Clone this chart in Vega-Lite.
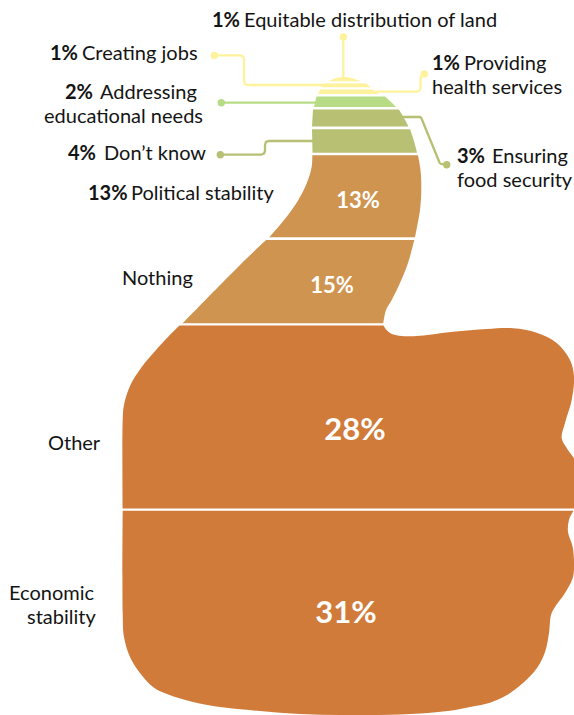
{
"$schema":"https://vega.github.io/schema/vega-lite/v6.json",
"width":574,"height":715,"padding":0,
"autosize":{"type":"fit","contains":"padding"},
"background":"white",
"view":{"stroke":null},
"datasets":{
"bands":[
{"topic":"Equitable distribution of land","seq":0,"x":328,"depth":81.2},{"topic":"Equitable distribution of land","seq":1,"x":328,"depth":81.2},{"topic":"Equitable distribution of land","seq":2,"x":335,"depth":78.4},{"topic":"Equitable distribution of land","seq":3,"x":344,"depth":77},{"topic":"Equitable distribution of land","seq":4,"x":353,"depth":78.4},{"topic":"Equitable distribution of land","seq":5,"x":361,"depth":81.2},{"topic":"Equitable distribution of land","seq":6,"x":361,"depth":81.2},
{"topic":"Creating jobs","seq":0,"x":324,"depth":83.5},{"topic":"Creating jobs","seq":1,"x":324,"depth":83.5},{"topic":"Creating jobs","seq":2,"x":366,"depth":83.5},{"topic":"Creating jobs","seq":3,"x":366,"depth":83.5},{"topic":"Creating jobs","seq":4,"x":371,"depth":87.3},{"topic":"Creating jobs","seq":5,"x":371,"depth":87.3},{"topic":"Creating jobs","seq":6,"x":321,"depth":87.3},{"topic":"Creating jobs","seq":7,"x":321,"depth":87.3},
{"topic":"Providing health services","seq":0,"x":320,"depth":89.6},{"topic":"Providing health services","seq":1,"x":320,"depth":89.6},{"topic":"Providing health services","seq":2,"x":373,"depth":89.6},{"topic":"Providing health services","seq":3,"x":373,"depth":89.6},{"topic":"Providing health services","seq":4,"x":379,"depth":94},{"topic":"Providing health services","seq":5,"x":379,"depth":94},{"topic":"Providing health services","seq":6,"x":318,"depth":94},{"topic":"Providing health services","seq":7,"x":318,"depth":94},
{"topic":"Addressing educational needs","seq":0,"x":316.5,"depth":96.5},{"topic":"Addressing educational needs","seq":1,"x":316.5,"depth":96.5},{"topic":"Addressing educational needs","seq":2,"x":385,"depth":96.5},{"topic":"Addressing educational needs","seq":3,"x":385,"depth":96.5},{"topic":"Addressing educational needs","seq":4,"x":391,"depth":102},{"topic":"Addressing educational needs","seq":5,"x":396,"depth":107},{"topic":"Addressing educational needs","seq":6,"x":396,"depth":107},{"topic":"Addressing educational needs","seq":7,"x":314,"depth":107},{"topic":"Addressing educational needs","seq":8,"x":314,"depth":107},
{"topic":"Ensuring food security","seq":0,"x":313,"depth":109.6},{"topic":"Ensuring food security","seq":1,"x":313,"depth":109.6},{"topic":"Ensuring food security","seq":2,"x":399,"depth":109.6},{"topic":"Ensuring food security","seq":3,"x":399,"depth":109.6},{"topic":"Ensuring food security","seq":4,"x":404,"depth":118},{"topic":"Ensuring food security","seq":5,"x":408.5,"depth":126.4},{"topic":"Ensuring food security","seq":6,"x":408.5,"depth":126.4},{"topic":"Ensuring food security","seq":7,"x":312,"depth":126.4},{"topic":"Ensuring food security","seq":8,"x":312,"depth":126.4},
{"topic":"Don't know","seq":0,"x":312,"depth":129.2},{"topic":"Don't know","seq":1,"x":312,"depth":129.2},{"topic":"Don't know","seq":2,"x":410,"depth":129.2},{"topic":"Don't know","seq":3,"x":410,"depth":129.2},{"topic":"Don't know","seq":4,"x":414,"depth":141},{"topic":"Don't know","seq":5,"x":417,"depth":152.8},{"topic":"Don't know","seq":6,"x":417,"depth":152.8},{"topic":"Don't know","seq":7,"x":312.5,"depth":152.8},{"topic":"Don't know","seq":8,"x":312.5,"depth":152.8},
{"topic":"Political stability","seq":0,"x":312.3,"depth":155.3},{"topic":"Political stability","seq":1,"x":312.3,"depth":155.3},{"topic":"Political stability","seq":2,"x":418,"depth":155.3},{"topic":"Political stability","seq":3,"x":418,"depth":155.3},{"topic":"Political stability","seq":4,"x":420.5,"depth":170},{"topic":"Political stability","seq":5,"x":421.3,"depth":190},{"topic":"Political stability","seq":6,"x":420,"depth":210},{"topic":"Political stability","seq":7,"x":415,"depth":237.3},{"topic":"Political stability","seq":8,"x":415,"depth":237.3},{"topic":"Political stability","seq":9,"x":269.3,"depth":237.3},{"topic":"Political stability","seq":10,"x":269.3,"depth":237.3},{"topic":"Political stability","seq":11,"x":286.7,"depth":216.7},{"topic":"Political stability","seq":12,"x":298.3,"depth":200},{"topic":"Political stability","seq":13,"x":306.7,"depth":183.3},{"topic":"Political stability","seq":14,"x":311.7,"depth":166.7},{"topic":"Political stability","seq":15,"x":312.3,"depth":155.3},{"topic":"Political stability","seq":16,"x":312.3,"depth":155.3},
{"topic":"Nothing","seq":0,"x":266,"depth":240},{"topic":"Nothing","seq":1,"x":266,"depth":240},{"topic":"Nothing","seq":2,"x":414.3,"depth":240},{"topic":"Nothing","seq":3,"x":414.3,"depth":240},{"topic":"Nothing","seq":4,"x":408,"depth":263},{"topic":"Nothing","seq":5,"x":400,"depth":283},{"topic":"Nothing","seq":6,"x":391.7,"depth":300},{"topic":"Nothing","seq":7,"x":386,"depth":310},{"topic":"Nothing","seq":8,"x":383.3,"depth":323.3},{"topic":"Nothing","seq":9,"x":383.3,"depth":323.3},{"topic":"Nothing","seq":10,"x":182.7,"depth":323.3},{"topic":"Nothing","seq":11,"x":182.7,"depth":323.3},{"topic":"Nothing","seq":12,"x":240,"depth":265},{"topic":"Nothing","seq":13,"x":266,"depth":240},{"topic":"Nothing","seq":14,"x":266,"depth":240},
{"topic":"Other","seq":0,"x":179.5,"depth":325.6},{"topic":"Other","seq":1,"x":179.5,"depth":325.6},{"topic":"Other","seq":2,"x":383.5,"depth":325.6},{"topic":"Other","seq":3,"x":383.5,"depth":325.6},{"topic":"Other","seq":4,"x":386.5,"depth":330},{"topic":"Other","seq":5,"x":392,"depth":334},{"topic":"Other","seq":6,"x":401.7,"depth":336},{"topic":"Other","seq":7,"x":420,"depth":335.7},{"topic":"Other","seq":8,"x":453,"depth":331.7},{"topic":"Other","seq":9,"x":486.7,"depth":329},{"topic":"Other","seq":10,"x":513,"depth":328.3},{"topic":"Other","seq":11,"x":536.7,"depth":332.7},{"topic":"Other","seq":12,"x":556.7,"depth":343},{"topic":"Other","seq":13,"x":570,"depth":360},{"topic":"Other","seq":14,"x":574,"depth":376.7},{"topic":"Other","seq":15,"x":571.7,"depth":400},{"topic":"Other","seq":16,"x":565,"depth":423},{"topic":"Other","seq":17,"x":561.7,"depth":438},{"topic":"Other","seq":18,"x":566.7,"depth":448},{"topic":"Other","seq":19,"x":574,"depth":458},{"topic":"Other","seq":20,"x":574,"depth":458},{"topic":"Other","seq":21,"x":574,"depth":508.4},{"topic":"Other","seq":22,"x":574,"depth":508.4},{"topic":"Other","seq":23,"x":122.7,"depth":508.4},{"topic":"Other","seq":24,"x":122.7,"depth":508.4},{"topic":"Other","seq":25,"x":122.7,"depth":420},{"topic":"Other","seq":26,"x":124,"depth":405},{"topic":"Other","seq":27,"x":130,"depth":386},{"topic":"Other","seq":28,"x":141,"depth":368},{"topic":"Other","seq":29,"x":156,"depth":350},{"topic":"Other","seq":30,"x":168,"depth":337},{"topic":"Other","seq":31,"x":179.5,"depth":325.6},{"topic":"Other","seq":32,"x":179.5,"depth":325.6},
{"topic":"Economic stability","seq":0,"x":122.7,"depth":510.8},{"topic":"Economic stability","seq":1,"x":122.7,"depth":510.8},{"topic":"Economic stability","seq":2,"x":573.5,"depth":510.8},{"topic":"Economic stability","seq":3,"x":573.5,"depth":510.8},{"topic":"Economic stability","seq":4,"x":569,"depth":520},{"topic":"Economic stability","seq":5,"x":568,"depth":532},{"topic":"Economic stability","seq":6,"x":572.7,"depth":547},{"topic":"Economic stability","seq":7,"x":574,"depth":567},{"topic":"Economic stability","seq":8,"x":572.7,"depth":578},{"topic":"Economic stability","seq":9,"x":565,"depth":593},{"topic":"Economic stability","seq":10,"x":555,"depth":607},{"topic":"Economic stability","seq":11,"x":551,"depth":615},{"topic":"Economic stability","seq":12,"x":549,"depth":633},{"topic":"Economic stability","seq":13,"x":545,"depth":652},{"topic":"Economic stability","seq":14,"x":537,"depth":668},{"topic":"Economic stability","seq":15,"x":523,"depth":683},{"topic":"Economic stability","seq":16,"x":507,"depth":695},{"topic":"Economic stability","seq":17,"x":490,"depth":702.7},{"topic":"Economic stability","seq":18,"x":470,"depth":707},{"topic":"Economic stability","seq":19,"x":450,"depth":710.7},{"topic":"Economic stability","seq":20,"x":420,"depth":713.5},{"topic":"Economic stability","seq":21,"x":380,"depth":715},{"topic":"Economic stability","seq":22,"x":340,"depth":715},{"topic":"Economic stability","seq":23,"x":300,"depth":714},{"topic":"Economic stability","seq":24,"x":260,"depth":711},{"topic":"Economic stability","seq":25,"x":220,"depth":707},{"topic":"Economic stability","seq":26,"x":193,"depth":702},{"topic":"Economic stability","seq":27,"x":167,"depth":694},{"topic":"Economic stability","seq":28,"x":153,"depth":687},{"topic":"Economic stability","seq":29,"x":140,"depth":673},{"topic":"Economic stability","seq":30,"x":130,"depth":657},{"topic":"Economic stability","seq":31,"x":124,"depth":637},{"topic":"Economic stability","seq":32,"x":122.7,"depth":613},{"topic":"Economic stability","seq":33,"x":122.7,"depth":510.8},{"topic":"Economic stability","seq":34,"x":122.7,"depth":510.8}
],
"leaders":[
{"topic":"Equitable distribution of land","seq":0,"x":343.3,"depth":37},{"topic":"Equitable distribution of land","seq":1,"x":343.3,"depth":78},
{"topic":"Creating jobs","seq":0,"x":214.3,"depth":55.4},{"topic":"Creating jobs","seq":1,"x":240,"depth":55.4},{"topic":"Creating jobs","seq":2,"x":243,"depth":56.5},{"topic":"Creating jobs","seq":3,"x":244,"depth":59},{"topic":"Creating jobs","seq":4,"x":244,"depth":81},{"topic":"Creating jobs","seq":5,"x":245,"depth":84},{"topic":"Creating jobs","seq":6,"x":248,"depth":85},{"topic":"Creating jobs","seq":7,"x":330,"depth":85},
{"topic":"Providing health services","seq":0,"x":424.3,"depth":74},{"topic":"Providing health services","seq":1,"x":422,"depth":75},{"topic":"Providing health services","seq":2,"x":420.5,"depth":78},{"topic":"Providing health services","seq":3,"x":420.5,"depth":88},{"topic":"Providing health services","seq":4,"x":419.5,"depth":90.7},{"topic":"Providing health services","seq":5,"x":417,"depth":91.7},{"topic":"Providing health services","seq":6,"x":375,"depth":91.7},
{"topic":"Addressing educational needs","seq":0,"x":221.3,"depth":102.7},{"topic":"Addressing educational needs","seq":1,"x":320,"depth":102.7},
{"topic":"Ensuring food security","seq":0,"x":446.7,"depth":164.7},{"topic":"Ensuring food security","seq":1,"x":441,"depth":164},{"topic":"Ensuring food security","seq":2,"x":439.5,"depth":162.5},{"topic":"Ensuring food security","seq":3,"x":421.5,"depth":118.5},{"topic":"Ensuring food security","seq":4,"x":420,"depth":117},{"topic":"Ensuring food security","seq":5,"x":400,"depth":117},
{"topic":"Don't know","seq":0,"x":220.3,"depth":154.7},{"topic":"Don't know","seq":1,"x":261,"depth":154.7},{"topic":"Don't know","seq":2,"x":264,"depth":153.5},{"topic":"Don't know","seq":3,"x":265,"depth":151},{"topic":"Don't know","seq":4,"x":265,"depth":145},{"topic":"Don't know","seq":5,"x":266,"depth":142},{"topic":"Don't know","seq":6,"x":269,"depth":141},{"topic":"Don't know","seq":7,"x":315,"depth":141}
],
"labels":[
{"kind":"pct","text":"1%","x":212,"depth":27},{"kind":"name","text":"Equitable distribution of land","x":244,"depth":27},
{"kind":"pct","text":"1%","x":50,"depth":60},{"kind":"name","text":"Creating jobs","x":82,"depth":60},
{"kind":"pct","text":"1%","x":432,"depth":70},{"kind":"name","text":"Providing","x":464,"depth":70},{"kind":"name","text":"health services","x":432,"depth":94},
{"kind":"pct","text":"2%","x":65,"depth":99},{"kind":"name","text":"Addressing","x":100,"depth":99},{"kind":"name","text":"educational needs","x":44,"depth":123},
{"kind":"pct","text":"3%","x":457,"depth":163},{"kind":"name","text":"Ensuring","x":492,"depth":163},{"kind":"name","text":"food security","x":457,"depth":187},
{"kind":"pct","text":"4%","x":68,"depth":160},{"kind":"name","text":"Don’t know","x":104,"depth":160},
{"kind":"pct","text":"13%","x":88,"depth":200},{"kind":"name","text":"Political stability","x":131,"depth":200},
{"kind":"name","text":"Nothing","x":122,"depth":285},
{"kind":"name","text":"Other","x":48,"depth":450},
{"kind":"name","text":"Economic","x":9,"depth":600},{"kind":"name","text":"stability","x":27,"depth":624}
],
"values":[
{"size":"small","text":"13%","x":358,"depth":208},
{"size":"small","text":"15%","x":332,"depth":293},
{"size":"large","text":"28%","x":355,"depth":439.5},
{"size":"large","text":"31%","x":346,"depth":622.5}
]
},
"encoding":{
"x":{"field":"x","type":"quantitative","axis":null,"scale":{"domain":[0,574],"nice":false,"zero":false}},
"y":{"field":"depth","type":"quantitative","axis":null,"scale":{"domain":[0,715],"reverse":true,"nice":false,"zero":false}}
},
"layer":[
{"data":{"name":"leaders"},
"mark":{"type":"line","strokeWidth":2.3,"interpolate":"linear"},
"encoding":{
"order":{"field":"seq"},
"stroke":{"field":"topic","type":"nominal","legend":null,
"scale":{"domain":["Equitable distribution of land","Creating jobs","Providing health services","Addressing educational needs","Ensuring food security","Don't know"],
"range":["#FFF29C","#FFF29C","#FFF29C","#B8DB85","#B8C074","#B8C074"]}}}},
{"data":{"name":"leaders"},
"transform":[{"filter":"datum.seq === 0"}],
"mark":{"type":"point","filled":true,"opacity":1,"size":55},
"encoding":{
"fill":{"field":"topic","type":"nominal","legend":null}}},
{"data":{"name":"bands"},
"mark":{"type":"line","interpolate":"catmull-rom","strokeWidth":0,"clip":true},
"encoding":{
"order":{"field":"seq"},
"fill":{"field":"topic","type":"nominal","legend":null,
"scale":{"domain":["Equitable distribution of land","Creating jobs","Providing health services","Addressing educational needs","Ensuring food security","Don't know","Political stability","Nothing","Other","Economic stability"],
"range":["#FFF29C","#FFF29C","#FFF29C","#B8DB85","#B8C074","#B8C074","#CF9550","#CF9550","#D07B3A","#D07B3A"]}}}},
{"data":{"name":"labels"},
"transform":[{"filter":"datum.kind === 'pct'"}],
"mark":{"type":"text","font":"Lato","fontSize":20,"fontWeight":"bold","align":"left","baseline":"alphabetic","color":"#141414"},
"encoding":{"text":{"field":"text"}}},
{"data":{"name":"labels"},
"transform":[{"filter":"datum.kind === 'name'"}],
"mark":{"type":"text","font":"Lato","fontSize":20,"align":"left","baseline":"alphabetic","color":"#141414"},
"encoding":{"text":{"field":"text"}}},
{"data":{"name":"values"},
"transform":[{"filter":"datum.size === 'small'"}],
"mark":{"type":"text","font":"Lato","fontSize":22,"fontWeight":"bold","align":"center","baseline":"alphabetic","color":"white"},
"encoding":{"text":{"field":"text"}}},
{"data":{"name":"values"},
"transform":[{"filter":"datum.size === 'large'"}],
"mark":{"type":"text","font":"Lato","fontSize":31,"fontWeight":"bold","align":"center","baseline":"alphabetic","color":"white"},
"encoding":{"text":{"field":"text"}}}
]
}
